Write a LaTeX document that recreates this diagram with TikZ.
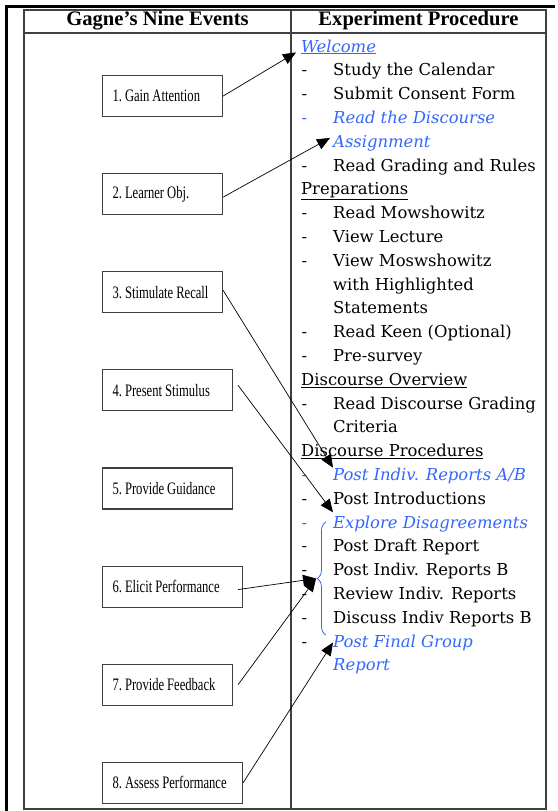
\documentclass[tikz,border=0pt]{standalone}
\usepackage{fontspec}
\setmainfont{DejaVu Serif}
\newfontfamily\headfont{Liberation Serif}
\newfontfamily\boxfont[FakeStretch=0.72]{Liberation Serif}
\usetikzlibrary{arrows.meta}
\usetikzlibrary{positioning}
\usetikzlibrary{decorations.pathreplacing}
\definecolor{linkblue}{RGB}{51,102,255}
\definecolor{rulegray}{RGB}{64,64,64}

\begin{document}
\begin{tikzpicture}[x=1pt, y=-1pt, node distance=56pt,
    event/.style={draw=rulegray, line width=1.1pt, minimum height=41pt, text width=#1,
      inner xsep=10pt, align=left, font=\boxfont\fontsize{17.5}{19}\selectfont\frenchspacing,
      execute at begin node={\hyphenpenalty=10000\spaceskip=3pt plus 1pt minus 1pt\relax}},
    head/.style={font=\headfont\bfseries\fontsize{20.6}{22}\selectfont},
    entry/.style={anchor=base west, inner sep=0pt, font=\fontsize{16.4}{20}\selectfont},
    link/.style={linkblue, font=\fontsize{16.4}{20}\selectfont\itshape},
    heading/.style={entry, xshift=-32pt},
    item/.style={entry, execute at begin node={\llap{\color{black}-\hspace{26pt}}}},
    bitem/.style={entry, link, execute at begin node={\llap{-\hspace{26pt}}}},
    litem/.style={item, link},
    lcont/.style={entry, link},
    arrow/.style={line width=0.7pt, -{Triangle[length=13pt, width=11pt]}}]

  \useasboundingbox (0,0) rectangle (557,811);

  % frame and table
  \draw[line width=3pt] (6.5,811) -- (6.5,6.5) -- (555,6.5);
  \draw[rulegray, line width=1.2pt] (24,10) rectangle (546,809);
  \draw[rulegray, line width=1.2pt] (24,33) -- (546,33);
  \draw[rulegray, line width=1.2pt] (291,10) -- (291,809);
  \node[head] (h1) at (157.5,21) {Gagne’s Nine Events};
  \node[head] (h2) at (418.5,21) {Experiment Procedure};

  % Gagne's events
  \node[event=100pt, anchor=north west] (b1) at (102,75) {1. Gain Attention};
  \node[event=100pt, below right=56pt and 0pt of b1.south west] (b2) {2. Learner Obj.};
  \node[event=100pt, below right=56pt and 0pt of b2.south west] (b3) {3. Stimulate Recall};
  \node[event=110pt, below right=56pt and 0pt of b3.south west] (b4) {4. Present Stimulus};
  \node[event=110pt, below right=56pt and 0pt of b4.south west] (b5) {5. Provide Guidance};
  \node[event=120pt, below right=56pt and 0pt of b5.south west] (b6) {6. Elicit Performance};
  \node[event=110pt, below right=56pt and 0pt of b6.south west] (b7) {7. Provide Feedback};
  \node[event=120pt, below right=56pt and 0pt of b7.south west] (b8) {8. Assess Performance};

  % procedure
  \node[heading, link] (l0) at (333,52) {\underline{Welcome}};
  \node[item] (l1) at (333,75.8) {Study the Calendar};
  \node[item] (l2) at (333,99.6) {Submit Consent Form};
  \node[bitem] (l3) at (333,123.4) {Read the Discourse};
  \node[lcont] (l4) at (333,147.2) {Assignment};
  \node[item] (l5) at (333,171) {Read Grading and Rules};
  \node[heading] (l6) at (333,194.8) {\underline{Preparations}};
  \node[item] (l7) at (333,218.6) {Read Mowshowitz};
  \node[item] (l8) at (333,242.4) {View Lecture};
  \node[item] (l9) at (333,266.2) {View Moswshowitz};
  \node[entry] (l10) at (333,290) {with Highlighted};
  \node[entry] (l11) at (333,313.8) {Statements};
  \node[item] (l12) at (333,337.6) {Read Keen (Optional)};
  \node[item] (l13) at (333,361.4) {Pre-survey};
  \node[heading] (l14) at (333,385.2) {\underline{Discourse Overview}};
  \node[item] (l15) at (333,409) {Read Discourse Grading};
  \node[entry] (l16) at (333,432.8) {Criteria};
  \node[heading] (l17) at (333,456.6) {\underline{Discourse Procedures}};
  \node[bitem] (l18) at (333,480.4) {Post Indiv. Reports A/B};
  \node[item] (l19) at (333,504.2) {Post Introductions};
  \node[bitem] (l20) at (333,528) {Explore Disagreements};
  \node[item] (l21) at (333,551.8) {Post Draft Report};
  \node[item] (l22) at (333,575.6) {Post Indiv. Reports B};
  \node[item] (l23) at (333,599.4) {Review Indiv. Reports};
  \node[item] (l24) at (333,623.2) {Discuss Indiv Reports B};
  \node[litem] (l25) at (333,647) {Post Final Group};
  \node[lcont] (l26) at (333,670.8) {Report};

  \draw[linkblue, line width=0.8pt, decorate, decoration={brace, amplitude=9pt}]
    (326,635) -- (326,522) node[midway, coordinate, xshift=-10pt] (bracetip) {};

  \draw[arrow] (b1.east) -- ([xshift=-5pt, yshift=2pt]l0.south west);
  \draw[arrow] ([yshift=-3pt]b2.east) -- ([xshift=-3pt, yshift=-3pt]l4.north west);
  \draw[arrow] ([yshift=2pt]b3.east) -- (l18.north west);
  \draw[arrow] ([xshift=5pt, yshift=5pt]b4.east) -- ([yshift=3pt]l20.north west);
  \draw[arrow] ([xshift=-5pt, yshift=-3pt]b6.east) -- (bracetip);
  \draw[arrow] ([xshift=5pt]b7.east) -- (bracetip);
  \draw[arrow] (b8.east) -- (l25.west);
\end{tikzpicture}
\end{document}
